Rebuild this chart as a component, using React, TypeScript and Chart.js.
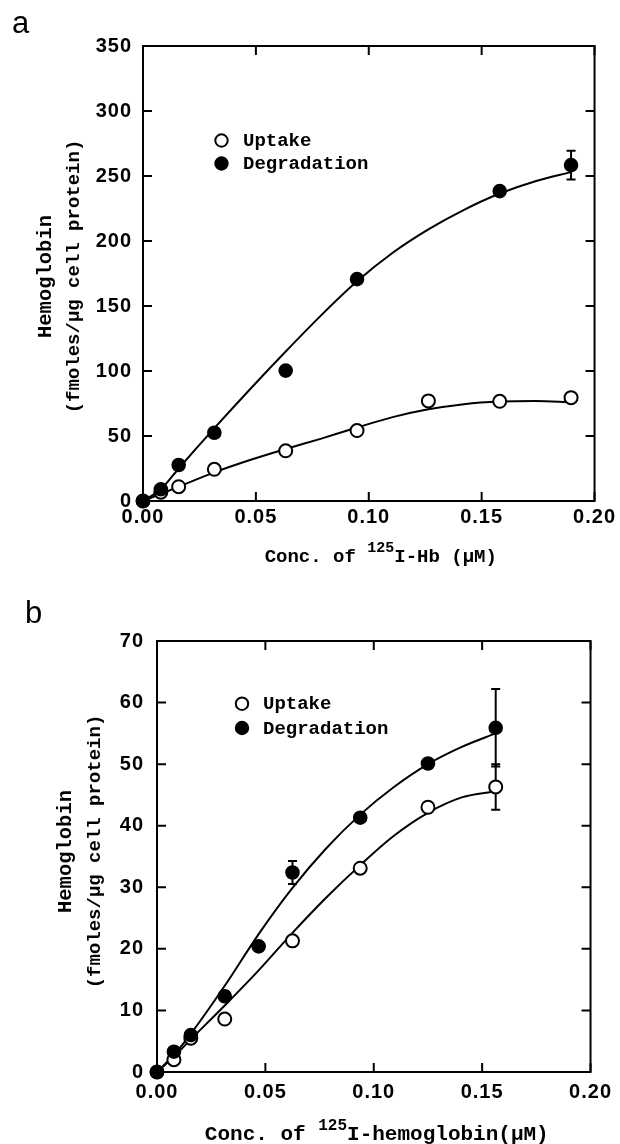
import React, { useEffect, useRef } from 'react';
import { Chart, registerables } from 'chart.js';

Chart.register(...registerables);

// ---------- Panel a data ----------
const aUptakeConc = [0, 0.0079, 0.0158, 0.0316, 0.0632, 0.0948, 0.1264, 0.158, 0.1896];
const aUptake = [0, 6.8, 11, 24.4, 38.6, 54.2, 77, 76.7, 79.5];
const aUptakeErr = [0, 0, 0, 0, 0, 0, 0, 0, 0];
const aDegConc = [0, 0.0079, 0.0158, 0.0316, 0.0632, 0.0948, 0.158, 0.1896];
const aDegradation = [0, 9, 27.7, 52.5, 100.3, 170.7, 238.4, 258.4];
const aDegErr = [0, 0, 0, 0, 0, 0, 0, 11];
const aFitConc = [0, 0.0079, 0.0158, 0.0316, 0.0474, 0.0632, 0.079, 0.0948, 0.1106, 0.1264, 0.1422, 0.158, 0.1738, 0.1896];
const aUptakeFit = [0, 5.5, 11, 22, 31.5, 40, 48, 56.5, 64.5, 70.5, 74.5, 76.5, 77, 76];
const aDegFit = [0, 9, 25, 56, 86, 115, 143, 169, 191, 209, 224, 236.5, 246, 253];
const aXTicks = [0, 0.05, 0.1, 0.15, 0.2];
const aYTicks = [0, 50, 100, 150, 200, 250, 300, 350];

// ---------- Panel b data ----------
const bUptakeConc = [0, 0.0078, 0.0156, 0.03125, 0.0625, 0.09375, 0.125, 0.15625];
const bUptake = [0, 2.0, 5.5, 8.6, 21.3, 33.1, 43.0, 46.3];
const bUptakeErr = [0, 0, 0, 0, 0, 0, 0, 3.7];
const bDegConc = [0, 0.0078, 0.0156, 0.03125, 0.0469, 0.0625, 0.09375, 0.125, 0.15625];
const bDegradation = [0, 3.3, 6.0, 12.3, 20.4, 32.4, 41.3, 50.1, 55.9];
const bDegErr = [0, 0, 0, 0, 0, 1.85, 0, 0, 6.3];
const bFitConc = [0, 0.0078, 0.0156, 0.03125, 0.0469, 0.0625, 0.078, 0.09375, 0.109, 0.125, 0.1406, 0.15625];
const bUptakeFit = [0, 2.5, 5.3, 10.8, 16.5, 22.6, 28.3, 33.6, 38.3, 42.1, 44.6, 45.6];
const bDegFit = [0, 2.8, 6.2, 14, 22.4, 29.9, 36.3, 41.8, 46.2, 50, 52.8, 55];
const bXTicks = [0, 0.05, 0.1, 0.15, 0.2];
const bYTicks = [0, 10, 20, 30, 40, 50, 60, 70];

const seriesNames = ['Uptake', 'Degradation'];
const yTitleLines = ['Hemoglobin', '(fmoles/\u03bcg cell protein)'];
const yTitleSizes = [20.5, 19];

const MONO = "'Liberation Mono', 'Courier New', monospace";
const SANS = "'Liberation Sans', Arial, Helvetica, sans-serif";

type PanelCfg = {
  top: number;
  height: number;
  letter: string;
  letterX: number;
  letterY: number;
  area: { left: number; right: number; top: number; bottom: number };
  yMax: number;
  yStep: number;
  xTicks: number[];
  yTicks: number[];
  uptakeConc: number[];
  uptake: number[];
  uptakeErr: number[];
  degConc: number[];
  degradation: number[];
  degErr: number[];
  fitConc: number[];
  uptakeFit: number[];
  degFit: number[];
  xTickPad: number;
  yTickPad: number;
  yTitleX: [number, number];
  yTitleShift: number;
  xTitle: [string, string, string];
  xTitleSize: number;
  xSupSize: number;
  xSupRise: number;
  xTitleBaseline: number;
  xTitleShift: number;
  legendX: number;
  legendTextX: number;
  legendY: [number, number];
};

const panels: PanelCfg[] = [
  {
    top: 0,
    height: 572,
    letter: 'a',
    letterX: 12,
    letterY: 33,
    area: { left: 143, right: 597, top: 46, bottom: 501 },
    yMax: 350,
    yStep: 50,
    xTicks: aXTicks,
    yTicks: aYTicks,
    uptakeConc: aUptakeConc,
    uptake: aUptake,
    uptakeErr: aUptakeErr,
    degConc: aDegConc,
    degradation: aDegradation,
    degErr: aDegErr,
    fitConc: aFitConc,
    uptakeFit: aUptakeFit,
    degFit: aDegFit,
    xTickPad: 4,
    yTickPad: 11,
    yTitleX: [45.5, 74],
    yTitleShift: 3,
    xTitle: ['Conc. of ', '125', 'I-Hb (\u03bcM)'],
    xTitleSize: 19,
    xSupSize: 15,
    xSupRise: 10,
    xTitleBaseline: 562,
    xTitleShift: 12,
    legendX: 221.5,
    legendTextX: 243,
    legendY: [140.5, 163.5],
  },
  {
    top: 572,
    height: 572,
    letter: 'b',
    letterX: 25,
    letterY: 50.5,
    area: { left: 157, right: 592, top: 69, bottom: 500 },
    yMax: 70,
    yStep: 10,
    xTicks: bXTicks,
    yTicks: bYTicks,
    uptakeConc: bUptakeConc,
    uptake: bUptake,
    uptakeErr: bUptakeErr,
    degConc: bDegConc,
    degradation: bDegradation,
    degErr: bDegErr,
    fitConc: bFitConc,
    uptakeFit: bUptakeFit,
    degFit: bDegFit,
    xTickPad: 8,
    yTickPad: 13,
    yTitleX: [66, 95],
    yTitleShift: -5,
    xTitle: ['Conc. of ', '125', 'I-hemoglobin(\u03bcM)'],
    xTitleSize: 21,
    xSupSize: 16,
    xSupRise: 10,
    xTitleBaseline: 568,
    xTitleShift: 3,
    legendX: 242,
    legendTextX: 263,
    legendY: [131.7, 156],
  },
];

function toPoints(xs: number[], ys: number[]) {
  return xs.map((x, i) => ({ x, y: ys[i] }));
}

function makeDecorPlugin(cfg: PanelCfg) {
  return {
    id: 'decor',
    beforeUpdate(chart: any) {
      chart.ctx.letterSpacing = '1px';
    },
    beforeDraw(chart: any) {
      chart.ctx.letterSpacing = '1px';
    },
    beforeDatasetsDraw(chart: any) {
      const ctx = chart.ctx as CanvasRenderingContext2D;
      const { left, right, top, bottom } = chart.chartArea;
      const xs = chart.scales.x;
      const ys = chart.scales.y;
      ctx.save();
      ctx.strokeStyle = '#000';
      ctx.lineWidth = 2;
      ctx.strokeRect(left, top, right - left, bottom - top);
      const tl = 9;
      ctx.beginPath();
      xs.ticks.forEach((t: any) => {
        const px = xs.getPixelForValue(t.value);
        ctx.moveTo(px, bottom);
        ctx.lineTo(px, bottom - tl);
        ctx.moveTo(px, top);
        ctx.lineTo(px, top + tl);
      });
      ys.ticks.forEach((t: any) => {
        const py = ys.getPixelForValue(t.value);
        ctx.moveTo(left, py);
        ctx.lineTo(left + tl, py);
        ctx.moveTo(right, py);
        ctx.lineTo(right - tl, py);
      });
      ctx.stroke();
      // error bars
      chart.data.datasets.forEach((ds: any) => {
        if (!ds.errorBars) return;
        ds.data.forEach((p: any, i: number) => {
          const e = ds.errorBars[i];
          if (!e) return;
          const px = xs.getPixelForValue(p.x);
          const y1 = ys.getPixelForValue(p.y + e);
          const y2 = ys.getPixelForValue(p.y - e);
          ctx.beginPath();
          ctx.moveTo(px, y1);
          ctx.lineTo(px, y2);
          ctx.moveTo(px - 4.5, y1);
          ctx.lineTo(px + 4.5, y1);
          ctx.moveTo(px - 4.5, y2);
          ctx.lineTo(px + 4.5, y2);
          ctx.stroke();
        });
      });
      ctx.restore();
    },
    afterDraw(chart: any) {
      const ctx = chart.ctx as CanvasRenderingContext2D;
      const { left, right, top, bottom } = chart.chartArea;
      ctx.save();
      (ctx as any).letterSpacing = '0px';
      ctx.fillStyle = '#000';
      ctx.strokeStyle = '#000';

      // panel letter
      ctx.font = `31px ${SANS}`;
      ctx.textAlign = 'left';
      ctx.textBaseline = 'alphabetic';
      ctx.fillText(cfg.letter, cfg.letterX, cfg.letterY);

      // legend (Uptake first, then Degradation)
      const ds = chart.data.datasets
        .filter((d: any) => d.inLegend)
        .sort((a: any, b: any) => a.inLegend - b.inLegend);
      ds.forEach((d: any, i: number) => {
        const cy = cfg.legendY[i];
        ctx.beginPath();
        ctx.arc(cfg.legendX, cy, 6.2, 0, Math.PI * 2);
        ctx.fillStyle = d.backgroundColor;
        ctx.fill();
        ctx.lineWidth = 2;
        ctx.stroke();
        ctx.fillStyle = '#000';
        ctx.font = `bold 19px ${MONO}`;
        ctx.textAlign = 'left';
        ctx.textBaseline = 'middle';
        ctx.fillText(d.label, cfg.legendTextX, cy + 1);
      });

      // y title
      const cy = (top + bottom) / 2 + cfg.yTitleShift;
      ctx.textAlign = 'center';
      ctx.textBaseline = 'middle';
      yTitleLines.forEach((line, i) => {
        ctx.save();
        ctx.font = `bold ${yTitleSizes[i]}px ${MONO}`;
        ctx.translate(cfg.yTitleX[i], cy);
        ctx.rotate(-Math.PI / 2);
        ctx.fillText(line, 0, 0);
        ctx.restore();
      });

      // x title with superscript
      const [pre, sup, post] = cfg.xTitle;
      const mainFont = `bold ${cfg.xTitleSize}px ${MONO}`;
      const supFont = `bold ${cfg.xSupSize}px ${MONO}`;
      ctx.font = mainFont;
      const wPre = ctx.measureText(pre).width;
      const wPost = ctx.measureText(post).width;
      ctx.font = supFont;
      const wSup = ctx.measureText(sup).width;
      const total = wPre + wSup + wPost;
      let x = (left + right) / 2 + cfg.xTitleShift - total / 2;
      ctx.textAlign = 'left';
      ctx.textBaseline = 'alphabetic';
      ctx.font = mainFont;
      ctx.fillText(pre, x, cfg.xTitleBaseline);
      x += wPre;
      ctx.font = supFont;
      ctx.fillText(sup, x, cfg.xTitleBaseline - cfg.xSupRise);
      x += wSup;
      ctx.font = mainFont;
      ctx.fillText(post, x, cfg.xTitleBaseline);
      ctx.restore();
    },
  };
}

function Panel({ cfg }: { cfg: PanelCfg }) {
  const ref = useRef<HTMLCanvasElement>(null);
  useEffect(() => {
    const canvas = ref.current!;
    const W = 620;
    const H = cfg.height;
    const tickFont = { family: SANS, size: 20, weight: 'bold' as const };
    const chart = new Chart(canvas, {
      type: 'scatter',
      data: {
        datasets: [
          {
            label: seriesNames[1],
            data: toPoints(cfg.degConc, cfg.degradation),
            backgroundColor: '#000',
            borderColor: '#000',
            borderWidth: 2,
            pointRadius: 6.3,
            pointHoverRadius: 6.3,
            order: 0,
            clip: false,
            errorBars: cfg.degErr,
            inLegend: 2,
          } as any,
          {
            label: seriesNames[0],
            data: toPoints(cfg.uptakeConc, cfg.uptake),
            backgroundColor: '#fff',
            borderColor: '#000',
            borderWidth: 2,
            pointRadius: 6.5,
            pointHoverRadius: 6.5,
            order: 1,
            clip: false,
            errorBars: cfg.uptakeErr,
            inLegend: 1,
          } as any,
          {
            label: 'Uptake fit',
            data: toPoints(cfg.fitConc, cfg.uptakeFit),
            showLine: true,
            borderColor: '#000',
            borderWidth: 2,
            pointRadius: 0,
            cubicInterpolationMode: 'monotone',
            order: 2,
            clip: false,
          } as any,
          {
            label: 'Degradation fit',
            data: toPoints(cfg.fitConc, cfg.degFit),
            showLine: true,
            borderColor: '#000',
            borderWidth: 2,
            pointRadius: 0,
            cubicInterpolationMode: 'monotone',
            order: 2,
            clip: false,
          } as any,
        ],
      },
      options: {
        responsive: false,
        animation: false,
        devicePixelRatio: 1,
        layout: {
          padding: { left: 0, top: cfg.area.top, right: W - cfg.area.right, bottom: 0 },
        },
        plugins: {
          legend: { display: false },
          tooltip: { enabled: false },
        },
        scales: {
          x: {
            type: 'linear',
            min: 0,
            max: 0.2,
            grid: { display: false, drawTicks: false },
            border: { display: false },
            ticks: {
              stepSize: 0.05,
              padding: cfg.xTickPad,
              color: '#000',
              font: tickFont,
              maxRotation: 0,
              autoSkip: false,
              callback: (v: any) => Number(v).toFixed(2),
            },
            afterBuildTicks: (s: any) => {
              s.ticks = cfg.xTicks.map((v) => ({ value: v }));
            },
            afterFit: (s: any) => {
              s.height = H - cfg.area.bottom;
            },
          },
          y: {
            type: 'linear',
            min: 0,
            max: cfg.yMax,
            grid: { display: false, drawTicks: false },
            border: { display: false },
            ticks: {
              stepSize: cfg.yStep,
              padding: cfg.yTickPad,
              color: '#000',
              font: tickFont,
              autoSkip: false,
              callback: (v: any) => String(v),
            },
            afterBuildTicks: (s: any) => {
              s.ticks = cfg.yTicks.map((v) => ({ value: v }));
            },
            afterFit: (s: any) => {
              s.width = cfg.area.left;
            },
          },
        },
      } as any,
      plugins: [makeDecorPlugin(cfg)],
    });
    return () => chart.destroy();
  }, [cfg]);
  return (
    <canvas
      ref={ref}
      width={620}
      height={cfg.height}
      style={{ position: 'absolute', left: 0, top: cfg.top, width: 620, height: cfg.height, display: 'block' }}
    />
  );
}

export default function App() {
  return (
    <div style={{ position: 'absolute', left: 0, top: 0, width: 620, height: 1144, background: '#fff', overflow: 'hidden' }}>
      {panels.map((p) => (
        <Panel key={p.letter} cfg={p} />
      ))}
    </div>
  );
}
